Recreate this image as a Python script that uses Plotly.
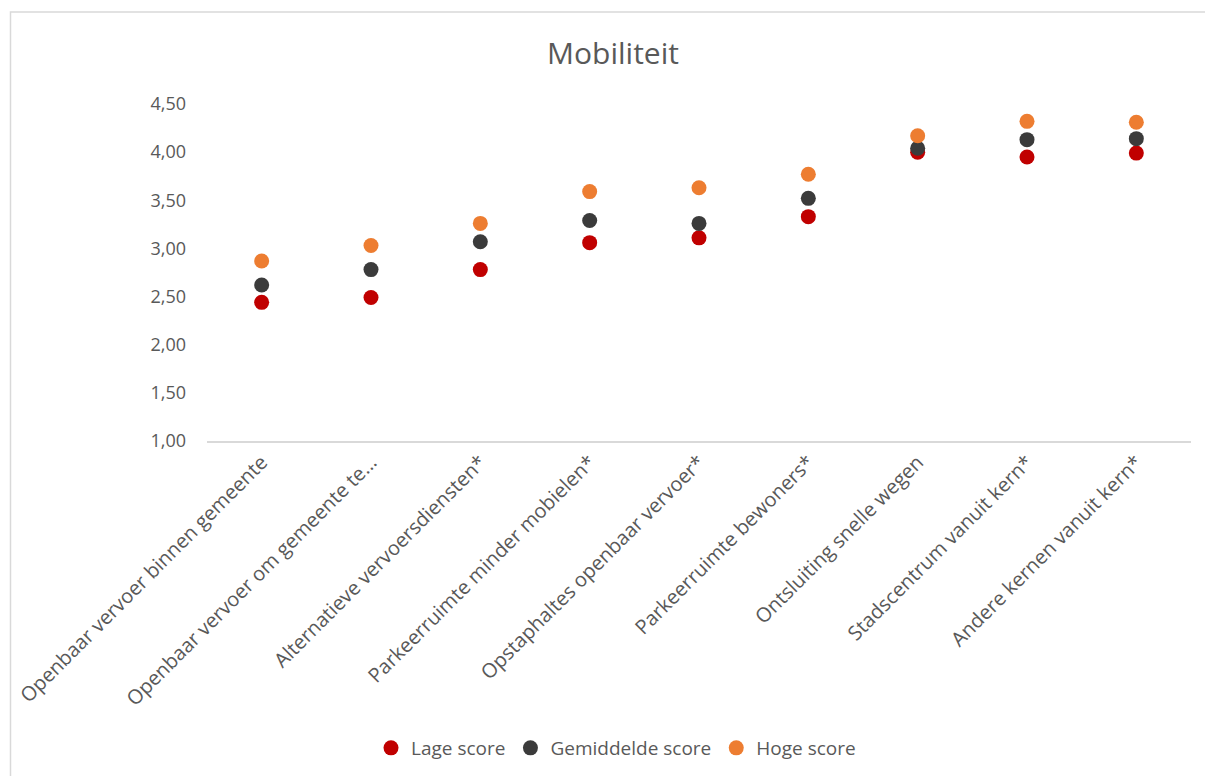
import plotly.graph_objects as go

categories = [
    "Openbaar vervoer binnen gemeente",
    "Openbaar vervoer om gemeente te...",
    "Alternatieve vervoersdiensten*",
    "Parkeerruimte minder mobielen*",
    "Opstaphaltes openbaar vervoer*",
    "Parkeerruimte bewoners*",
    "Ontsluiting snelle wegen",
    "Stadscentrum vanuit kern*",
    "Andere kernen vanuit kern*",
]
lage_score = [2.44, 2.49, 2.78, 3.06, 3.11, 3.33, 4.00, 3.95, 3.99]
gemiddelde_score = [2.62, 2.78, 3.07, 3.29, 3.26, 3.52, 4.04, 4.13, 4.14]
hoge_score = [2.87, 3.03, 3.26, 3.59, 3.63, 3.77, 4.17, 4.32, 4.31]
y_ticks = [1.0, 1.5, 2.0, 2.5, 3.0, 3.5, 4.0, 4.5]

series = [
    ("Lage score", lage_score, "#C00000"),
    ("Gemiddelde score", gemiddelde_score, "#3B3B3B"),
    ("Hoge score", hoge_score, "#ED7D31"),
]

fig = go.Figure()
for name, vals, color in series:
    fig.add_trace(go.Scatter(
        x=categories, y=vals, mode="markers", name=name,
        marker=dict(color=color, size=15, line=dict(width=0)),
    ))

font_family = "Open Sans, sans-serif"
gray = "#595959"
W, H = 1205, 776

fig.update_layout(
    width=W, height=H,
    paper_bgcolor="white", plot_bgcolor="white",
    separators=", ",
    margin=dict(l=207, r=14, t=104, b=335),
    title=dict(text="Mobiliteit", x=613 / W, xref="container", xanchor="center",
               y=1 - 53 / H, yref="container", yanchor="middle",
               font=dict(family=font_family, size=30, color=gray)),
    font=dict(family=font_family, size=16, color=gray),
    showlegend=True,
    legend=dict(orientation="h", x=616 / W, xref="container", xanchor="center",
                y=1 - 748 / H, yref="container", yanchor="middle",
                font=dict(family=font_family, size=19, color=gray),
                itemwidth=30, traceorder="normal"),
    xaxis=dict(
        type="category", range=[-0.5, len(categories) - 0.5],
        showgrid=False, showline=True, linecolor="#D9D9D9", linewidth=1.5,
        tickangle=-45, ticks="", tickfont=dict(size=20, color=gray),
        zeroline=False,
    ),
    yaxis=dict(
        range=[1.0, 4.5], tickvals=y_ticks, tickformat=".2f",
        showgrid=False, showline=False, zeroline=False, ticks="",
        ticklabelstandoff=20, tickfont=dict(size=18, color=gray),
    ),
    shapes=[dict(type="rect", xref="paper", yref="paper",
                 x0=(10.5 - 207) / 984, x1=(1215 - 207) / 984,
                 y0=(441 - 790) / 337, y1=(441 - 12) / 337,
                 line=dict(color="#D9D9D9", width=1.5), fillcolor="rgba(0,0,0,0)",
                 layer="below")],
)

fig.write_html("out.html", config={"displayModeBar": False},
               post_script="document.body.style.margin='0';document.body.style.overflow='hidden';")
